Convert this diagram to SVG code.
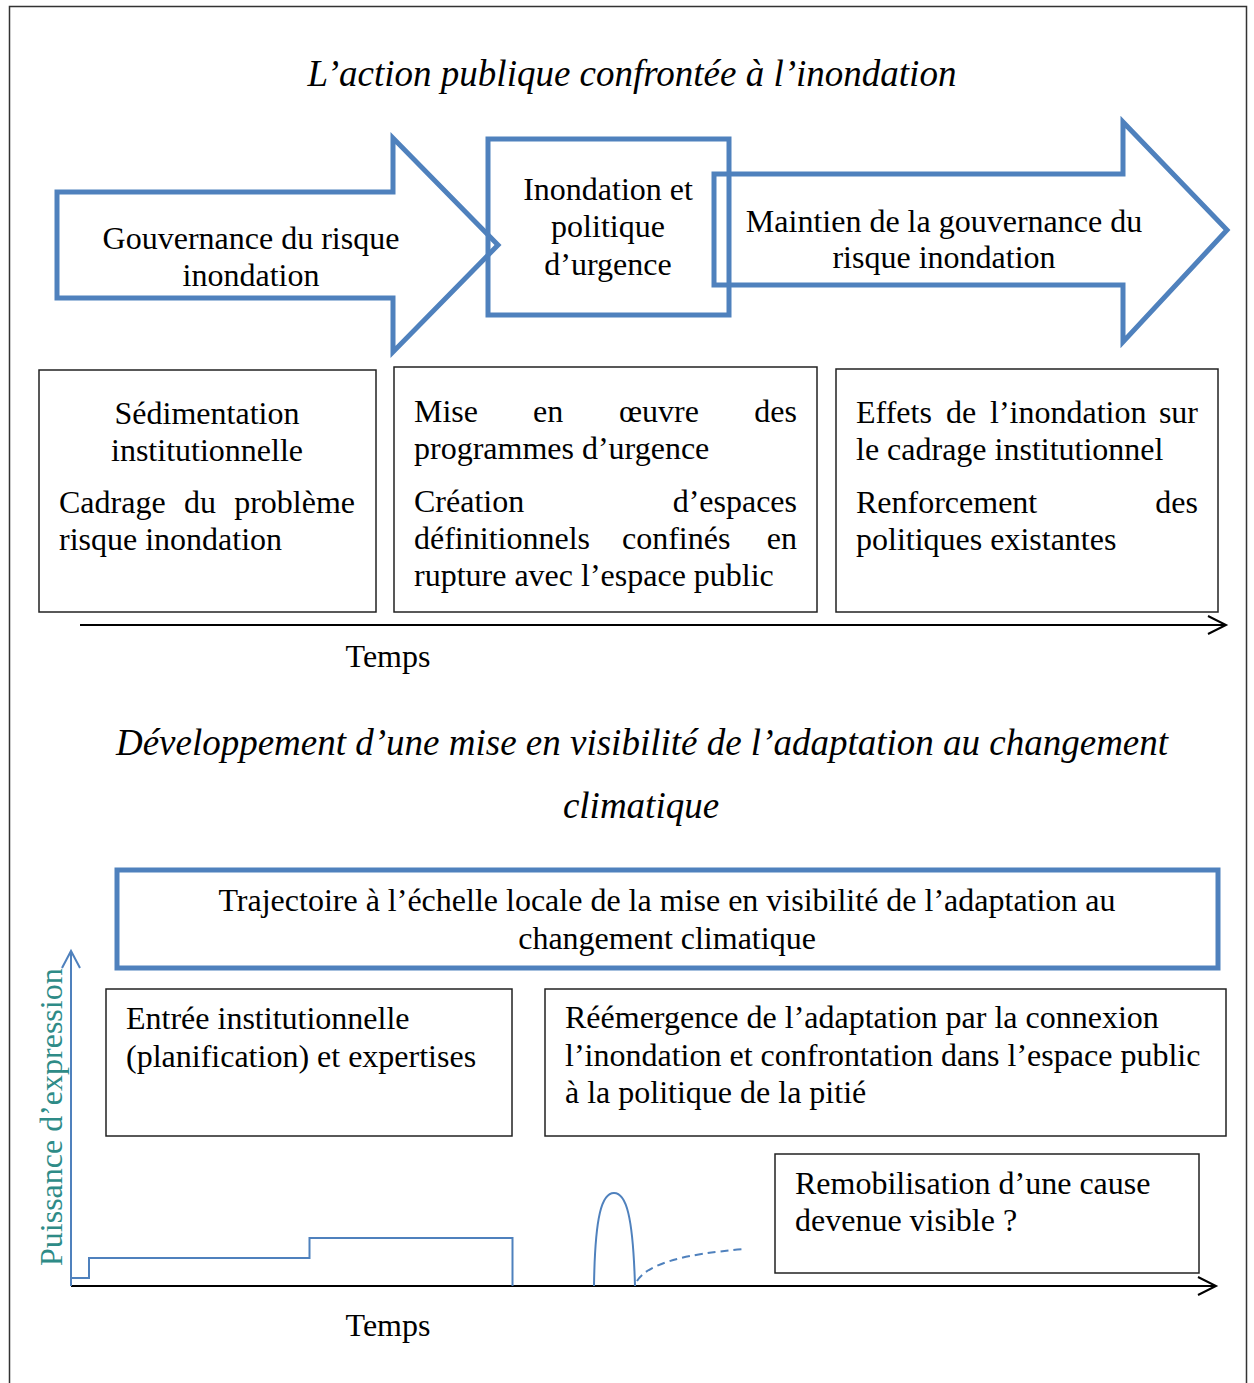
<svg xmlns="http://www.w3.org/2000/svg" width="1254" height="1383" viewBox="0 0 1254 1383">
<style>
text{font-family:"Liberation Serif","Times New Roman",serif;fill:#000;}
.t{font-size:32px;}
.ti{font-size:37px;font-style:italic;}
.c{text-anchor:middle;}
.e{text-anchor:end;}
.blue{fill:none;stroke:#4F81BD;stroke-width:5;}
.box{fill:#fff;stroke:#222;stroke-width:1.5;}
.ax{fill:none;stroke:#000;stroke-width:2;}
.bl{fill:none;stroke:#4F81BD;stroke-width:2;}
</style>
<rect x="0" y="0" width="1254" height="1383" fill="#fff"/>
<path d="M9.5,1383 V6.5 H1246.5 V1383" fill="none" stroke="#333" stroke-width="1.5"/>

<text class="ti c" x="632" y="86">L’action publique confrontée à l’inondation</text>

<g id="arrow-gouvernance">
<path class="blue" d="M57,192 H393 V138 L498,245 L393,352 V298 H57 Z"/>
<text class="t c" x="251" y="249">Gouvernance du risque</text>
<text class="t c" x="251" y="286">inondation</text>
</g>
<g id="box-urgence">
<rect class="blue" x="488" y="139" width="241" height="176"/>
<text class="t c" x="608" y="200">Inondation et</text>
<text class="t c" x="608" y="237">politique</text>
<text class="t c" x="608" y="275">d’urgence</text>
</g>
<g id="arrow-maintien">
<path class="blue" d="M714,174 H1123 V122 L1227,230 L1123,342 V285 H714 Z"/>
<text class="t c" x="944" y="232">Maintien de la gouvernance du</text>
<text class="t c" x="944" y="268">risque inondation</text>
</g>

<g id="box-sedimentation">
<rect class="box" x="39" y="370" width="337" height="242"/>
<text class="t c" x="207" y="424">Sédimentation</text>
<text class="t c" x="207" y="461">institutionnelle</text>
<text class="t" x="59" y="513">Cadrage</text>
<text class="t" x="184" y="513">du</text>
<text class="t e" x="355" y="513">problème</text>
<text class="t" x="59" y="550">risque inondation</text>
</g>
<g id="box-programmes">
<rect class="box" x="394" y="367" width="423" height="245"/>
<text class="t" x="414" y="422">Mise</text>
<text class="t" x="533" y="422">en</text>
<text class="t" x="619" y="422">œuvre</text>
<text class="t e" x="797" y="422">des</text>
<text class="t" x="414" y="459">programmes d’urgence</text>
<text class="t" x="414" y="512">Création</text>
<text class="t e" x="797" y="512">d’espaces</text>
<text class="t" x="414" y="549">définitionnels</text>
<text class="t" x="622" y="549">confinés</text>
<text class="t e" x="797" y="549">en</text>
<text class="t" x="414" y="586">rupture avec l’espace public</text>
</g>
<g id="box-effets">
<rect class="box" x="836" y="369" width="382" height="243"/>
<text class="t" x="856" y="423">Effets</text>
<text class="t" x="946" y="423">de</text>
<text class="t" x="990" y="423">l’inondation</text>
<text class="t e" x="1198" y="423">sur</text>
<text class="t" x="856" y="460">le cadrage institutionnel</text>
<text class="t" x="856" y="513">Renforcement</text>
<text class="t e" x="1198" y="513">des</text>
<text class="t" x="856" y="550">politiques existantes</text>
</g>

<g id="connectors">
<path class="ax" d="M80,625 H1225"/>
<path class="ax" d="M1208,616 L1226,625 L1208,634"/>
<path class="ax" d="M71,1286 H1215"/>
<path class="ax" d="M1198,1277 L1216,1286 L1198,1295"/>
<path class="bl" d="M71,1286 V952"/>
<path class="bl" d="M62,968 L71,951 L80,968"/>
<path class="bl" d="M71,1278 H89 V1258 H309.5 V1238 H512.5 V1286"/>
<path class="bl" d="M594,1286 C595,1215 602,1193 614,1193 C626,1193 633,1215 635,1286"/>
<path class="bl" d="M637,1281 Q652,1256 746,1249" stroke-dasharray="8,5"/>
</g>

<text class="t" x="388" y="667" text-anchor="middle">Temps</text>

<text class="ti c" x="642" y="755">Développement d’une mise en visibilité de l’adaptation au changement</text>
<text class="ti c" x="641" y="818">climatique</text>

<g id="box-trajectoire">
<rect class="blue" x="117" y="870" width="1101" height="98"/>
<text class="t c" x="667" y="911">Trajectoire à l’échelle locale de la mise en visibilité de l’adaptation au</text>
<text class="t c" x="667" y="949">changement climatique</text>
</g>
<g id="box-entree">
<rect class="box" x="106" y="989" width="406" height="147"/>
<text class="t" x="126" y="1029">Entrée institutionnelle</text>
<text class="t" x="126" y="1067">(planification) et expertises</text>
</g>
<g id="box-reemergence">
<rect class="box" x="545" y="989" width="681" height="147"/>
<text class="t" x="565" y="1028">Réémergence de l’adaptation par la connexion</text>
<text class="t" x="565" y="1066">l’inondation et confrontation dans l’espace public</text>
<text class="t" x="565" y="1103">à la politique de la pitié</text>
</g>
<g id="box-remobilisation">
<rect class="box" x="775" y="1154" width="424" height="119"/>
<text class="t" x="795" y="1194">Remobilisation d’une cause</text>
<text class="t" x="795" y="1231">devenue visible ?</text>
</g>

<text class="t" x="62" y="1266" transform="rotate(-90 62 1266)" style="fill:#2E8B87">Puissance d’expression</text>
<text class="t" x="388" y="1336" text-anchor="middle">Temps</text>
</svg>
